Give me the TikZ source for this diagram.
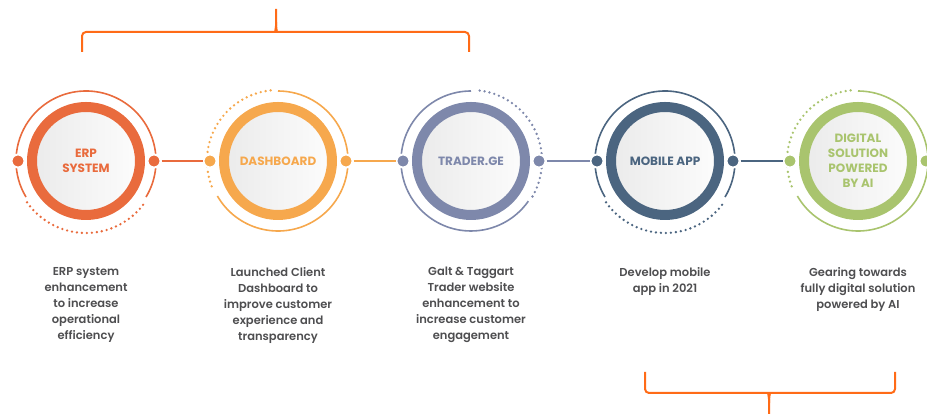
\documentclass[tikz,border=0pt]{standalone}
\usepackage{fontspec}
\setmainfont{Poppins}
\newfontfamily\descfont{Poppins SemiBold}
\usepackage{tikz}
\usetikzlibrary{positioning, calc}

\begin{document}
\begin{tikzpicture}[x=1pt, y=1pt,
    hub/.style={circle, minimum size=108pt, inner sep=0pt, line width=10pt, left color=black!8, right color=black!1, align=center, font=\fontsize{12}{15}\selectfont\bfseries},
    knob/.style={circle, minimum size=13pt, inner sep=0pt, draw=white, line width=2pt},
    link/.style={line width=1.8pt},
    halo/.style={line width=1.6pt},
    dotted arc/.style={line width=2.6pt, line cap=round, dash pattern=on 0pt off 5pt},
    desc/.style={anchor=north, align=center, inner sep=0pt, text=cDESC, font=\descfont\fontsize{11.5}{16}\selectfont},
    brace/.style={draw=cBRACE, line width=2pt, rounded corners=4pt}]

\definecolor{cERP}{HTML}{E96B3D}
\definecolor{cDASH}{HTML}{F6A84D}
\definecolor{cTRADE}{HTML}{7E88AB}
\definecolor{cMOB}{HTML}{4B6580}
\definecolor{cAI}{HTML}{A9C46E}
\definecolor{cDESC}{HTML}{4E4E50}
\definecolor{cBRACE}{HTML}{FF6B17}

\useasboundingbox (0,0) rectangle (927,414);

\pgfmathsetmacro{\yc}{253}
\pgfmathsetmacro{\ra}{70}
\pgfmathsetmacro{\rk}{68}
\pgfmathsetmacro{\yd}{147}

% ANILLOS
\node[hub, draw=cERP, text=cERP] (erp) at (86,\yc) {ERP\\SYSTEM};
\node[hub, draw=cDASH, text=cDASH] (dash) at (278,\yc) {DASHBOARD};
\node[hub, draw=cTRADE, text=cTRADE] (trade) at (471,\yc) {TRADER.GE};
\node[hub, draw=cMOB, text=cMOB] (mob) at (665,\yc) {MOBILE APP};
\node[hub, draw=cAI, text=cAI] (ai) at (858,\yc) {DIGITAL\\SOLUTION\\POWERED\\BY AI};

% Arcos exteriores
\draw[halo, cERP] ($(erp.center)+(-31:\ra pt)$) arc[start angle=-31, end angle=211, radius=\ra pt];
\draw[dotted arc, cERP] ($(erp.center)+(215:\ra pt+2pt)$) arc[start angle=215, end angle=325, radius=\ra pt+2pt];
\draw[halo, cDASH] ($(dash.center)+(-150:\ra pt)$) arc[start angle=-150, end angle=90, radius=\ra pt];
\draw[dotted arc, cDASH] ($(dash.center)+(96:\ra pt+1pt)$) arc[start angle=96, end angle=202, radius=\ra pt+1pt];
\draw[halo, cTRADE] ($(trade.center)+(90:\ra pt)$) arc[start angle=90, end angle=325, radius=\ra pt];
\draw[dotted arc, cTRADE] ($(trade.center)+(-30:\ra pt+1pt)$) arc[start angle=-30, end angle=84, radius=\ra pt+1pt];
\draw[halo, cMOB] ($(mob.center)+(-31:\ra pt)$) arc[start angle=-31, end angle=211, radius=\ra pt];
\draw[dotted arc, cMOB] ($(mob.center)+(215:\ra pt+2pt)$) arc[start angle=215, end angle=325, radius=\ra pt+2pt];
\draw[halo, cAI] ($(ai.center)+(-150:\ra pt)$) arc[start angle=-150, end angle=90, radius=\ra pt];
\draw[dotted arc, cAI] ($(ai.center)+(96:\ra pt+1pt)$) arc[start angle=96, end angle=202, radius=\ra pt+1pt];

% Puntos laterales
\node[knob, fill=cERP] (erp-l) at ($(erp.center)+(-\rk pt,0)$) {};
\node[knob, fill=cERP] (erp-r) at ($(erp.center)+(\rk pt,0)$) {};
\node[knob, fill=cDASH] (dash-l) at ($(dash.center)+(-\rk pt,0)$) {};
\node[knob, fill=cDASH] (dash-r) at ($(dash.center)+(\rk pt,0)$) {};
\node[knob, fill=cTRADE] (trade-l) at ($(trade.center)+(-\rk pt,0)$) {};
\node[knob, fill=cTRADE] (trade-r) at ($(trade.center)+(\rk pt,0)$) {};
\node[knob, fill=cMOB] (mob-l) at ($(mob.center)+(-\rk pt,0)$) {};
\node[knob, fill=cMOB] (mob-r) at ($(mob.center)+(\rk pt,0)$) {};
\node[knob, fill=cAI] (ai-l) at ($(ai.center)+(-\rk pt,0)$) {};
\node[knob, fill=cAI] (ai-r) at ($(ai.center)+(\rk pt,0)$) {};

% Conectores
\draw[link, cERP] (erp-r) -- (dash-l);
\draw[link, cDASH] (dash-r) -- (trade-l);
\draw[link, cTRADE] (trade-r) -- (mob-l);
\draw[link, cMOB] (mob-r) -- (ai-l);

% Textos
\node[desc] (erp-txt) at (86,\yd) {ERP system\\enhancement\\to increase\\operational\\efficiency};
\node[desc] (dash-txt) at (278,\yd) {Launched Client\\Dashboard to\\improve customer\\experience and\\transparency};
\node[desc] (trade-txt) at (471,\yd) {Galt \& Taggart\\Trader website\\enhancement to\\increase customer\\engagement};
\node[desc] (mob-txt) at (665,\yd) {Develop mobile\\app in 2021};
\node[desc] (ai-txt) at (858,\yd) {Gearing towards\\fully digital solution\\powered by AI};

% Llaves
\draw[brace] (82,362) -- (82,382) -- (271,382) .. controls (275,382) and (276,386) .. (276,392) -- (276,405);
\draw[brace] (276,392) .. controls (276,386) and (277,382) .. (281,382) -- (469,382) -- (469,362);
\draw[brace] (645,42) -- (645,21) -- (764,21) .. controls (768,21) and (769,17) .. (769,11) -- (769,0);
\draw[brace] (769,11) .. controls (769,17) and (770,21) .. (774,21) -- (895,21) -- (895,42);

\end{tikzpicture}
\end{document}
